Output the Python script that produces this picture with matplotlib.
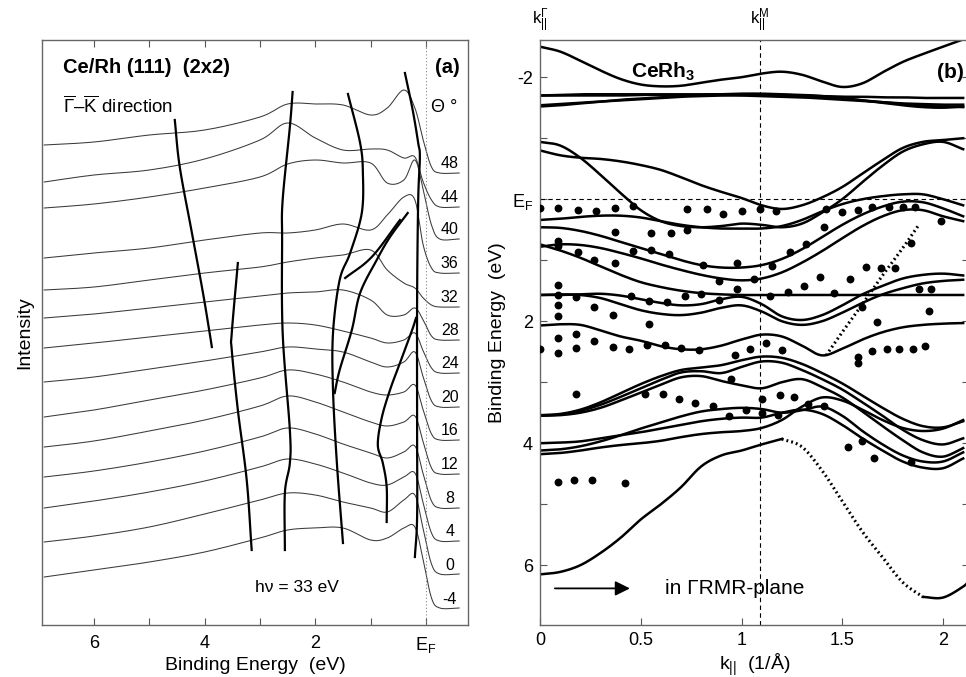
import numpy as np
import matplotlib
matplotlib.use('Agg')
import matplotlib.pyplot as plt

plt.rcParams['font.family'] = ['Liberation Sans', 'DejaVu Sans']
plt.rcParams['mathtext.fontset'] = 'custom'
plt.rcParams['mathtext.rm'] = 'Liberation Sans'
plt.rcParams['mathtext.it'] = 'Liberation Sans:italic'
plt.rcParams['mathtext.bf'] = 'Liberation Sans:bold'

# ---------------- Panel (a) data ----------------
theta_labels = ['48', '44', '40', '36', '32', '28', '24', '20', '16', '12', '8', '4', '0', '-4']
offsets = [452, 418, 386, 352, 318, 285, 252, 218, 185, 151, 117, 84, 51, 17]
be_grid = [6.9, 6.0, 5.0, 4.0, 3.0, 2.5, 2.0, 1.5, 1.0, 0.7, 0.4, 0.2, 0.05, -0.1, -0.25, -0.6]
spec_48 = [28, 31, 38, 43, 56, 69, 69, 68, 58, 65, 83, 65, 33, 6, 0, 0]
spec_44 = [25, 32, 37, 48, 67, 84, 69, 57, 58, 57, 49, 50, 25, 7, 0, 0]
spec_40 = [31, 35, 42, 51, 62, 75, 79, 76, 76, 56, 59, 79, 49, 14, 0, 0]
spec_36 = [15, 20, 25, 33, 40, 40, 43, 49, 43, 58, 76, 73, 28, 5, 0, 0]
spec_32 = [17, 20, 27, 34, 40, 45, 49, 52, 57, 37, 24, 19, 9, 2, 0, 0]
spec_28 = [22, 26, 32, 38, 44, 47, 48, 50, 40, 25, 25, 32, 20, 4, 0, 0]
spec_24 = [25, 30, 36, 42, 48, 50, 48, 42, 35, 30, 33, 40, 22, 5, 0, 0]
spec_20 = [25, 30, 38, 46, 55, 60, 58, 55, 45, 40, 45, 55, 30, 6, 0, 0]
spec_16 = [23, 30, 40, 50, 62, 70, 66, 58, 48, 45, 48, 55, 30, 6, 0, 0]
spec_12 = [27, 33, 43, 54, 68, 78, 72, 62, 52, 48, 52, 58, 32, 6, 0, 0]
spec_8 = [31, 37, 46, 57, 71, 80, 74, 64, 55, 50, 56, 62, 34, 7, 0, 0]
spec_4 = [33, 40, 49, 60, 74, 82, 77, 68, 58, 56, 64, 68, 38, 8, 0, 0]
spec_0 = [32, 38, 47, 60, 74, 81, 79, 72, 66, 62, 74, 79, 45, 10, 0, 0]
spec_m4 = [31, 38, 46, 56, 70, 78, 80, 80, 68, 70, 80, 81, 48, 10, 0, 0]

# dispersion lines (binding energy, vertical position)
disp1_e = [4.54, 4.45, 4.23, 4.03, 3.91, 3.87]
disp1_y = [505, 458, 392, 332, 292, 278]
disp2_e = [3.40, 3.51, 3.51, 3.40, 3.24, 3.15]
disp2_y = [362, 292, 275, 215, 145, 75]
disp3_e = [2.41, 2.46, 2.59, 2.60, 2.59, 2.46, 2.46, 2.55, 2.55]
disp3_y = [533, 498, 425, 385, 292, 195, 162, 132, 75]
disp4_e = [1.41, 1.19, 1.14, 1.16, 1.37, 1.56, 1.68, 1.68, 1.61, 1.50]
disp4_y = [531, 482, 452, 412, 372, 345, 292, 235, 162, 82]
disp5_e = [0.33, 0.65, 0.89, 1.19, 1.34, 1.56, 1.65]
disp5_y = [412, 388, 365, 332, 295, 255, 232]
disp5b_e = [0.47, 0.98, 1.46]
disp5b_y = [405, 368, 347]
disp6_e = [0.18, 0.25, 0.47, 0.65, 0.80, 0.87, 0.78, 0.71, 0.71]
disp6_y = [307, 295, 262, 235, 207, 180, 162, 138, 103]
disp7_e = [0.38, 0.24, 0.14, 0.11, 0.14, 0.16, 0.16, 0.16, 0.20]
disp7_y = [552, 515, 482, 468, 425, 325, 195, 108, 68]

# ---------------- Panel (b) data ----------------
k_grid = [0.0, 0.1, 0.2, 0.3, 0.4, 0.5, 0.6, 0.7, 0.8, 0.9, 1.0,
          1.1, 1.2, 1.3, 1.4, 1.5, 1.6, 1.7, 1.8, 1.9, 2.0, 2.1]
band_t1 = [-2.50, -2.42, -2.27, -2.11, -1.97, -1.88, -1.85, -1.86, -1.91, -1.96, -2.00,
           -2.06, -2.09, -2.04, -1.93, -1.84, -1.90, -2.08, -2.25, -2.38, -2.50, -2.62]
band_f1 = [-1.70, -1.70, -1.70, -1.70, -1.70, -1.71, -1.71, -1.71, -1.71, -1.71, -1.71,
           -1.71, -1.70, -1.70, -1.69, -1.68, -1.68, -1.67, -1.67, -1.66, -1.66, -1.66]
band_f2 = [-1.70, -1.71, -1.72, -1.72, -1.72, -1.72, -1.72, -1.72, -1.72, -1.72, -1.72,
           -1.72, -1.71, -1.70, -1.68, -1.65, -1.62, -1.59, -1.56, -1.53, -1.52, -1.51]
band_f3 = [-1.54, -1.56, -1.58, -1.60, -1.63, -1.65, -1.67, -1.69, -1.71, -1.72, -1.73,
           -1.73, -1.72, -1.71, -1.69, -1.66, -1.62, -1.58, -1.54, -1.51, -1.50, -1.52]
band_f4 = [-1.52, -1.54, -1.57, -1.60, -1.62, -1.64, -1.66, -1.68, -1.69, -1.70, -1.70,
           -1.69, -1.68, -1.67, -1.65, -1.63, -1.61, -1.59, -1.57, -1.56, -1.55, -1.55]
band_b1 = [-0.94, -0.88, -0.68, -0.40, -0.10, 0.18, 0.36, 0.44, 0.46, 0.44, 0.40,
           0.42, 0.46, 0.40, 0.22, 0.00, -0.28, -0.55, -0.78, -0.90, -0.94, -0.82]
band_b2 = [-0.80, -0.72, -0.68, -0.66, -0.62, -0.56, -0.48, -0.36, -0.23, -0.12, -0.02,
           0.10, 0.16, 0.10, -0.03, -0.20, -0.42, -0.64, -0.84, -0.94, -0.97, -1.00]
band_u1 = [0.34, 0.32, 0.29, 0.27, 0.27, 0.30, 0.36, 0.42, 0.46, 0.48, 0.48,
           0.48, 0.44, 0.34, 0.20, 0.08, 0.00, -0.05, -0.08, -0.08, 0.00, 0.10]
band_u2 = [0.46, 0.47, 0.52, 0.60, 0.70, 0.80, 0.90, 1.00, 1.08, 1.12, 1.12,
           1.08, 0.98, 0.82, 0.62, 0.42, 0.25, 0.12, 0.04, 0.05, 0.15, 0.28]
band_u3 = [0.78, 0.74, 0.75, 0.80, 0.88, 0.97, 1.07, 1.16, 1.24, 1.30, 1.33,
           1.30, 1.20, 1.04, 0.85, 0.64, 0.44, 0.28, 0.18, 0.18, 0.28, 0.36]
band_u4 = [0.74, 0.84, 0.96, 1.10, 1.24, 1.36, 1.44, 1.50, 1.54, 1.56, 1.57,
           1.57, 1.57, 1.57, 1.57, 1.57, 1.57, 1.57, 1.57, 1.57, 1.57, 1.57]
band_u5 = [1.57, 1.57, 1.56, 1.55, 1.58, 1.64, 1.70, 1.74, 1.72, 1.64, 1.60,
           1.72, 1.92, 1.98, 1.90, 1.74, 1.56, 1.42, 1.30, 1.24, 1.22, 1.25]
band_u6 = [1.57, 1.56, 1.57, 1.62, 1.72, 1.82, 1.88, 1.90, 1.86, 1.78, 1.74,
           1.84, 2.00, 2.06, 2.00, 1.86, 1.70, 1.56, 1.46, 1.38, 1.34, 1.32]
band_u7 = [2.07, 2.05, 2.06, 2.15, 2.25, 2.32, 2.41, 2.46, 2.46, 2.40, 2.30,
           2.22, 2.25, 2.40, 2.56, 2.45, 2.30, 2.18, 2.10, 2.06, 2.04, 2.03]
band_h1 = [3.54, 3.52, 3.45, 3.33, 3.18, 3.03, 2.90, 2.80, 2.76, 2.72, 2.64,
           2.58, 2.60, 2.70, 2.85, 3.02, 3.22, 3.42, 3.60, 3.72, 3.74, 3.64]
band_h2 = [3.55, 3.53, 3.47, 3.37, 3.24, 3.10, 2.96, 2.84, 2.82, 2.85, 2.75,
           2.66, 2.68, 2.80, 2.95, 3.12, 3.33, 3.55, 3.78, 3.95, 4.02, 3.92]
band_h3 = [3.55, 3.54, 3.50, 3.42, 3.30, 3.17, 3.04, 2.92, 2.90, 2.98, 3.05,
           3.10, 3.00, 2.95, 3.08, 3.25, 3.48, 3.72, 3.95, 4.15, 4.22, 4.08]
band_h4 = [4.00, 3.99, 3.97, 3.92, 3.87, 3.82, 3.76, 3.70, 3.64, 3.60, 3.58,
           3.58, 3.50, 3.45, 3.52, 3.70, 3.92, 4.12, 4.30, 4.40, 4.41, 4.25]
band_h5 = [4.12, 4.10, 4.05, 3.97, 3.87, 3.76, 3.66, 3.56, 3.48, 3.44, 3.42,
           3.44, 3.50, 3.46, 3.40, 3.55, 3.80, 4.02, 4.20, 4.30, 4.30, 4.15]
band_h6 = [4.18, 4.16, 4.12, 4.07, 4.03, 4.00, 3.96, 3.90, 3.85, 3.82, 3.80,
           3.75, 3.62, 3.40, 3.25, 3.30, 3.45, 3.62, 3.75, 3.80, 3.76, 3.62]
band_low_k = [0.0, 0.1, 0.2, 0.3, 0.4, 0.5, 0.6, 0.7, 0.8, 0.9, 1.0, 1.1, 1.2]
band_low_e = [6.15, 6.11, 6.00, 5.80, 5.55, 5.25, 5.00, 4.72, 4.38, 4.20, 4.12, 4.02, 3.93]
band_low_dot_k = [1.2, 1.3, 1.4, 1.5, 1.6, 1.7, 1.8, 1.9]
band_low_dot_e = [3.93, 4.06, 4.45, 4.95, 5.45, 5.87, 6.28, 6.52]
band_low_end_k = [1.9, 2.0, 2.1, 2.13]
band_low_end_e = [6.52, 6.53, 6.35, 6.25]
band_dot_k = [1.42, 1.50, 1.60, 1.70, 1.80, 1.88]
band_dot_e = [2.56, 2.18, 1.72, 1.25, 0.80, 0.42]

dots_k = [0, 0.09, 0.19, 0.28, 0.37, 0.46, 0.73, 0.83, 0.91, 1.0, 1.09, 1.17, 1.42, 1.5, 1.58,
          1.65, 1.73, 1.8, 1.86,
          0.37, 0.55, 0.65, 0.73, 1.41, 0.09, 0.09, 0.19, 0.27, 0.37, 0.46, 0.55, 0.64, 0.81,
          0.98, 1.15, 1.24, 1.32, 1.84, 1.99, 1.62, 1.69, 1.76,
          0.89, 1.06, 1.39, 1.54, 1.31, 1.23, 1.14, 0.98, 1.46,
          0.09, 0.09, 0.09, 0.09, 0.18, 0.27, 0.36, 0.45, 0.54, 0.63, 0.72, 0.80, 0.89,
          1.6, 1.67, 1.88, 1.94, 1.93, 0.54,
          0, 0.09, 0.09, 0.18, 0.18, 0.27, 0.36, 0.44, 0.53, 0.62, 0.70, 0.79, 0.97, 1.04,
          1.12, 1.2,
          1.58, 1.58, 1.65, 1.72, 1.78, 1.85, 1.91,
          0.18, 0.52, 0.61, 0.69, 0.77, 0.86, 0.94, 0.95, 1.02, 1.10, 1.10, 1.18, 1.19, 1.26,
          1.33, 1.41,
          1.53, 1.60, 1.66, 1.84,
          0.09, 0.17, 0.26, 0.42]
dots_e = [0.15, 0.15, 0.18, 0.2, 0.15, 0.11, 0.16, 0.16, 0.25, 0.2, 0.16, 0.2, 0.16, 0.21, 0.18,
          0.13, 0.13, 0.13, 0.13,
          0.54, 0.55, 0.56, 0.51, 0.45, 0.69, 0.77, 0.86, 0.99, 1.05, 0.85, 0.84, 0.9, 1.08,
          1.05, 1.09, 0.86, 0.74, 0.71, 0.36, 1.11, 1.13, 1.13,
          1.34, 1.30, 1.28, 1.31, 1.42, 1.52, 1.59, 1.48, 1.53,
          1.40, 1.57, 1.74, 1.91, 1.6, 1.77, 1.90, 1.58, 1.67, 1.69, 1.58, 1.55, 1.66,
          1.76, 2.01, 1.48, 1.48, 1.84, 2.05,
          2.46, 2.28, 2.52, 2.21, 2.44, 2.32, 2.43, 2.45, 2.39, 2.39, 2.44, 2.48, 2.55, 2.46,
          2.35, 2.47,
          2.58, 2.68, 2.49, 2.45, 2.45, 2.45, 2.40,
          3.19, 3.2, 3.2, 3.27, 3.34, 3.39, 3.55, 2.94, 3.46, 3.28, 3.51, 3.53, 3.21, 3.24,
          3.36, 3.39,
          4.07, 3.96, 4.24, 4.31,
          4.64, 4.61, 4.61, 4.65]


def smooth(x, y, n=12):
    """Catmull-Rom path through the read points (drawing aid only)."""
    P = np.column_stack([np.asarray(x, float), np.asarray(y, float)])
    if len(P) < 3:
        return P[:, 0], P[:, 1]
    P = np.vstack([2 * P[0] - P[1], P, 2 * P[-1] - P[-2]])
    t = np.linspace(0, 1, n, endpoint=False)[:, None]
    segs = []
    for i in range(1, len(P) - 2):
        p0, p1, p2, p3 = P[i - 1], P[i], P[i + 1], P[i + 2]
        segs.append(0.5 * (2 * p1 + (-p0 + p2) * t + (2 * p0 - 5 * p1 + 4 * p2 - p3) * t ** 2
                           + (-p0 + 3 * p1 - 3 * p2 + p3) * t ** 3))
    segs.append(P[-2][None, :])
    S = np.vstack(segs)
    return S[:, 0], S[:, 1]


W, H = 966, 677
fig = plt.figure(figsize=(W / 100, H / 100), dpi=100)

# ---------------- Panel (a) ----------------
axa = fig.add_axes([42 / W, 1 - 625 / H, 426 / W, 585 / H])
spectra = [spec_48, spec_44, spec_40, spec_36, spec_32, spec_28, spec_24,
           spec_20, spec_16, spec_12, spec_8, spec_4, spec_0, spec_m4]
for lab, off, sp in zip(theta_labels, offsets, spectra):
    xs, ys = smooth(be_grid, np.asarray(sp) + off)
    axa.plot(xs, ys, color='#3a3a3a', lw=0.75)
    axa.text(-0.43, off + 9, lab, ha='center', va='center', fontsize=11.5)

for de, dy in [(disp1_e, disp1_y), (disp2_e, disp2_y), (disp3_e, disp3_y),
               (disp4_e, disp4_y), (disp5_e, disp5_y), (disp5b_e, disp5b_y),
               (disp6_e, disp6_y), (disp7_e, disp7_y)]:
    xs, ys = smooth(de, dy)
    axa.plot(xs, ys, color='black', lw=1.6)

axa.axvline(0, color='#888888', lw=0.8, ls=(0, (1, 2)))
axa.set_xlim(6.94, -0.76)
axa.set_ylim(0, 585)
axa.set_xticks([6, 5, 4, 3, 2, 1, 0])
axa.set_xticklabels(['6', '', '4', '', '2', '', r'E$_\mathregular{F}$'], fontsize=13)
axa.set_yticks([])
axa.tick_params(axis='x', direction='in', length=5, top=True, pad=7, color='#555555')
for s in axa.spines.values():
    s.set_color('#666666')
    s.set_linewidth(1.0)
axa.set_xlabel('Binding Energy  (eV)', fontsize=14, labelpad=2)
axa.set_ylabel('Intensity', fontsize=14, labelpad=6)
axa.text(6.56, 557, 'Ce/Rh (111)  (2x2)', fontsize=14.5, fontweight='bold', va='center')
axa.text(6.56, 519, r'$\overline{\mathregular{\Gamma}}$–$\overline{\mathregular{K}}$ direction',
         fontsize=13.5, va='center')
axa.text(-0.17, 557, '(a)', fontsize=14.5, fontweight='bold', va='center', ha='left')
axa.text(-0.1, 517, 'Θ °', fontsize=13, va='center', ha='left')
axa.text(2.33, 37, 'hν = 33 eV', fontsize=12.5, va='center', ha='center')

# ---------------- Panel (b) ----------------
axb = fig.add_axes([540 / W, 1 - 625 / H, 429 / W, 585 / H])
for band in [band_t1, band_f1, band_f2, band_f3, band_f4, band_b1, band_b2,
             band_u1, band_u2, band_u3, band_u4, band_u5, band_u6, band_u7,
             band_h1, band_h2, band_h3, band_h4, band_h5, band_h6]:
    xs, ys = smooth(k_grid, band)
    axb.plot(xs, ys, color='black', lw=1.8)
xs, ys = smooth(band_low_k, band_low_e)
axb.plot(xs, ys, color='black', lw=1.8)
xs, ys = smooth(band_low_end_k, band_low_end_e)
axb.plot(xs, ys, color='black', lw=1.8)
xs, ys = smooth(band_low_dot_k, band_low_dot_e)
axb.plot(xs, ys, color='black', lw=2.2, ls=(0, (0.6, 1.0)))
xs, ys = smooth(band_dot_k, band_dot_e)
axb.plot(xs, ys, color='black', lw=2.2, ls=(0, (0.6, 1.0)))

axb.scatter(dots_k, dots_e, s=32, color='black', zorder=5, linewidths=0)

axb.axvline(1.09, color='black', lw=0.8, ls=(0, (4, 3)))
axb.axhline(0, color='black', lw=0.8, ls=(0, (4, 3)))
axb.set_xlim(0, 2.129)
axb.set_ylim(6.98, -2.61)
axb.set_xticks([0, 0.5, 1, 1.5, 2])
axb.set_xticklabels(['0', '0.5', '1', '1.5', '2'], fontsize=13)
axb.set_yticks([-2, -1, 0, 1, 2, 3, 4, 5, 6])
axb.set_yticklabels(['-2', '', r'E$_\mathregular{F}$', '', '2', '', '4', '', '6'], fontsize=13)
axb.tick_params(direction='in', length=5, right=True, pad=5, color='#555555')
for s in axb.spines.values():
    s.set_color('#666666')
    s.set_linewidth(1.0)
axb.spines['right'].set_visible(False)
axb.set_xlabel(r'k$_\mathregular{||}$  (1/Å)', fontsize=14, labelpad=2)
axb.set_ylabel('Binding Energy  (eV)', fontsize=14, labelpad=4)
axb.text(0.45, -2.08, r'CeRh$_\mathregular{3}$', fontsize=15, fontweight='bold', va='center', ha='left')
axb.text(1.97, -2.08, '(b)', fontsize=15, fontweight='bold', va='center', ha='left')
axb.annotate('', xy=(0.46, 6.38), xytext=(0.06, 6.38),
             arrowprops=dict(arrowstyle='-|>', color='black', lw=1.3, mutation_scale=22))
axb.text(0.62, 6.38, 'in ΓRMR-plane', fontsize=15, va='center', ha='left')
axb.text(0.0, -2.93, r'k$_\mathregular{||}^{\Gamma}$', fontsize=12, ha='center', va='center')
axb.text(1.09, -2.93, r'k$_\mathregular{||}^\mathregular{M}$', fontsize=12, ha='center', va='center')

fig.savefig('out.png', dpi=100)
